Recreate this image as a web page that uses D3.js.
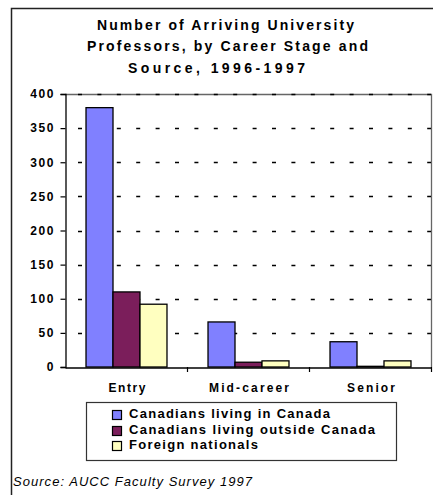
<!DOCTYPE html>
<html>
<head>
<meta charset="utf-8">
<script src="https://cdn.jsdelivr.net/npm/d3@7"></script>
<style>
  body { margin: 0; background: #fff; }
  text { font-family: "Liberation Sans", Arial, sans-serif; fill: #000; }
</style>
</head>
<body>
<svg width="433" height="495"></svg>
<script>
const categories = ['Entry', 'Mid-career', 'Senior'];
const seriesNames = ['Canadians living in Canada', 'Canadians living outside Canada', 'Foreign nationals'];
const inCanada = [380, 66, 37];
const outsideCanada = [110, 7, 1];
const foreign = [92, 9, 9];
const yTicks = [0, 50, 100, 150, 200, 250, 300, 350, 400];
const titleLines = ['Number of Arriving University', 'Professors, by Career Stage and', 'Source, 1996-1997'];
const sourceNote = 'Source: AUCC Faculty Survey 1997';

const colors = ['#8080ff', '#7b1e5b', '#ffffc0'];
const seriesValues = [inCanada, outsideCanada, foreign];

const svg = d3.select('svg');
const plot = { left: 65, right: 431, top: 94, bottom: 367 };

// outer frame (left + top edges)
svg.append('path')
    .attr('d', 'M11.5,495 L11.5,8.5 L433,8.5')
    .attr('fill', 'none')
    .attr('stroke', '#222')
    .attr('stroke-width', 1.5);

// title
const titleX = [97, 87, 128];
const titleW = [257, 281, 177];
titleLines.forEach((t, i) => {
    svg.append('text')
        .attr('x', titleX[i])
        .attr('y', 29.5 + i * 21.5)
        .attr('textLength', titleW[i])
        .attr('lengthAdjust', 'spacing')
        .style('font-size', '14px')
        .style('font-weight', 'bold')
        .text(t);
});

const yScale = d3.scaleLinear()
    .domain([0, 400])
    .range([plot.bottom, plot.top]);

const x0 = d3.scaleBand()
    .domain(categories)
    .range([plot.left, plot.right]);

const x1 = d3.scaleBand()
    .domain(d3.range(seriesNames.length))
    .range([0, x0.bandwidth()])
    .paddingOuter(0.76);

// plot area border (grey, top and right)
svg.append('path')
    .attr('d', `M${plot.left},${plot.top + 0.5} L${plot.right + 0.5},${plot.top + 0.5} L${plot.right + 0.5},${plot.bottom}`)
    .attr('fill', 'none')
    .attr('stroke', '#666')
    .attr('stroke-width', 1.3);

// dashed gridlines
svg.append('g')
    .selectAll('line')
    .data(yTicks.filter(d => d > 0))
    .enter()
    .append('line')
    .attr('x1', plot.left)
    .attr('x2', plot.right)
    .attr('y1', d => Math.round(yScale(d)) + 0.5)
    .attr('y2', d => Math.round(yScale(d)) + 0.5)
    .attr('stroke', '#000')
    .attr('stroke-width', 1.3)
    .attr('stroke-dasharray', '4,15.4')
    .attr('stroke-dashoffset', -13);

// bars
const groups = svg.append('g')
    .selectAll('g')
    .data(categories)
    .enter()
    .append('g')
    .attr('transform', d => `translate(${x0(d)},0)`);

groups.selectAll('rect')
    .data((c, ci) => seriesValues.map((vals, si) => ({ si, v: vals[ci] })))
    .enter()
    .append('rect')
    .attr('x', d => x1(d.si) + 0.5)
    .attr('width', x1.bandwidth())
    .attr('y', d => yScale(d.v))
    .attr('height', d => plot.bottom - yScale(d.v))
    .attr('fill', d => colors[d.si])
    .attr('stroke', '#000')
    .attr('stroke-width', 1.3);

// y axis
const yAxis = d3.axisLeft(yScale)
    .tickValues(yTicks)
    .tickSize(5)
    .tickPadding(7)
    .tickFormat(d3.format('d'));

const yAxisG = svg.append('g')
    .attr('transform', `translate(${plot.left + 0.5},0)`)
    .call(yAxis);
yAxisG.select('.domain').attr('stroke', '#000').attr('stroke-width', 1.3);
yAxisG.selectAll('.tick line').attr('stroke-width', 1.2);
yAxisG.selectAll('.tick text')
    .style('font-family', '"Liberation Sans", Arial, sans-serif')
    .style('font-size', '12px')
    .style('font-weight', 'bold')
    .style('letter-spacing', '1.6px')
    .attr('dx', '1.6');

// x axis
const xAxis = d3.axisBottom(x0).tickSize(0).tickFormat('');
const xAxisG = svg.append('g')
    .attr('transform', `translate(0,${plot.bottom + 0.5})`)
    .call(xAxis);
xAxisG.select('.domain').attr('stroke', '#000').attr('stroke-width', 1.3);

// tick marks between categories
svg.append('g')
    .selectAll('line')
    .data(categories)
    .enter()
    .append('line')
    .attr('x1', d => Math.round(x0(d) + x0.bandwidth()) + 0.5)
    .attr('x2', d => Math.round(x0(d) + x0.bandwidth()) + 0.5)
    .attr('y1', plot.bottom)
    .attr('y2', plot.bottom + 5)
    .attr('stroke', '#000')
    .attr('stroke-width', 1.2);

const catW = { 'Entry': 37, 'Mid-career': 80, 'Senior': 48 };
svg.append('g')
    .selectAll('text')
    .data(categories)
    .enter()
    .append('text')
    .attr('x', d => x0(d) + x0.bandwidth() / 2 - catW[d] / 2 + 1)
    .attr('y', 392)
    .attr('textLength', d => catW[d])
    .attr('lengthAdjust', 'spacing')
    .style('font-size', '12px')
    .style('font-weight', 'bold')
    .text(d => d);

// legend
const legend = svg.append('g');
legend.append('rect')
    .attr('x', 86.5)
    .attr('y', 402.5)
    .attr('width', 310)
    .attr('height', 58)
    .attr('fill', '#fff')
    .attr('stroke', '#333')
    .attr('stroke-width', 1.2);

const legW = [201, 246, 129];
const legY = [418, 434, 449];
seriesNames.forEach((name, i) => {
    legend.append('rect')
        .attr('x', 112.5)
        .attr('y', legY[i] - 7.5)
        .attr('width', 9)
        .attr('height', 9)
        .attr('fill', colors[i])
        .attr('stroke', '#000')
        .attr('stroke-width', 1.2);
    legend.append('text')
        .attr('x', 129)
        .attr('y', legY[i])
        .attr('textLength', legW[i])
        .attr('lengthAdjust', 'spacing')
        .style('font-size', '13px')
        .style('font-weight', 'bold')
        .text(name);
});

// source note
svg.append('text')
    .attr('x', 13)
    .attr('y', 486)
    .attr('textLength', 239)
    .attr('lengthAdjust', 'spacing')
    .style('font-size', '13px')
    .style('font-style', 'italic')
    .text(sourceNote);
</script>
</body>
</html>
